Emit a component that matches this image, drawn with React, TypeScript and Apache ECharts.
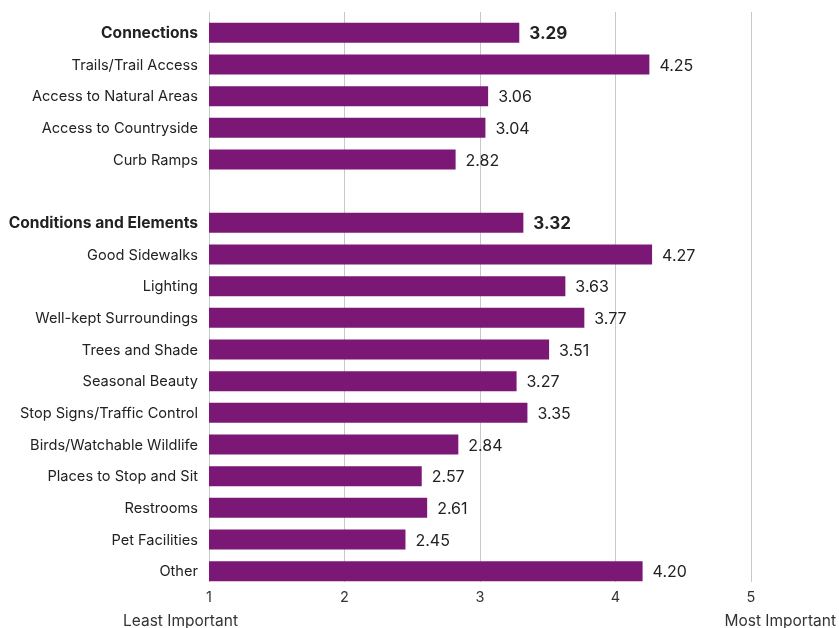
import React, { useEffect, useRef } from "react";
import * as echarts from "echarts";

const categories = [
  "Connections",
  "Trails/Trail Access",
  "Access to Natural Areas",
  "Access to Countryside",
  "Curb Ramps",
  "",
  "Conditions and Elements",
  "Good Sidewalks",
  "Lighting",
  "Well-kept Surroundings",
  "Trees and Shade",
  "Seasonal Beauty",
  "Stop Signs/Traffic Control",
  "Birds/Watchable Wildlife",
  "Places to Stop and Sit",
  "Restrooms",
  "Pet Facilities",
  "Other",
];
const values: (number | null)[] = [
  3.29, 4.25, 3.06, 3.04, 2.82, null,
  3.32, 4.27, 3.63, 3.77, 3.51, 3.27, 3.35, 2.84, 2.57, 2.61, 2.45, 4.2,
];
const headers = ["Connections", "Conditions and Elements"];
const tickLabels = ["1", "2", "3", "4", "5"];
const scaleEnds = ["Least Important", "Most Important"];

const FONT = "Inter, 'Open Sans', sans-serif";
const PURPLE = "#7b1875";

export default function App() {
  const ref = useRef<HTMLDivElement>(null);
  useEffect(() => {
    if (!ref.current) return;
    const chart = echarts.init(ref.current, null, { renderer: "svg" });
    const cats = [...categories].reverse();
    const vals = [...values].reverse();
    chart.setOption({
      animation: false,
      textStyle: { fontFamily: FONT },
      grid: [
        { left: 209, right: 88, top: 17, bottom: 41, containLabel: false },
        { left: 209, right: 88, top: 12, bottom: 46, containLabel: false },
      ],
      xAxis: [
        {
          type: "value",
          gridIndex: 0,
          min: 1,
          max: 5,
          interval: 1,
          axisLine: { show: false },
          axisTick: { show: false },
          splitLine: { show: false },
          axisLabel: { show: false },
        },
        {
          type: "value",
          gridIndex: 1,
          min: 1,
          max: 5,
          interval: 1,
          axisLine: { show: false },
          axisTick: { show: false },
          splitLine: { show: true, lineStyle: { color: "#c8c8c8", width: 1 } },
          axisLabel: {
            margin: 7,
            fontSize: 14.5,
            color: "#333",
            fontFamily: FONT,
            formatter: (v: number) => tickLabels[Math.round(v) - 1] ?? "",
          },
        },
      ],
      yAxis: [
        {
          type: "category",
          gridIndex: 0,
          data: cats,
          axisLine: { show: false },
          axisTick: { show: false },
          axisLabel: {
            margin: 11,
            fontSize: 14.6,
            color: "#222",
            fontFamily: FONT,
            formatter: (v: string) => (headers.includes(v) ? `{b|${v}}` : v),
            rich: {
              b: { fontSize: 15.6, fontWeight: "bold", color: "#222", fontFamily: FONT },
            },
          },
        },
        {
          type: "category",
          gridIndex: 1,
          data: cats,
          show: false,
        },
      ],
      series: [
        {
          type: "bar",
          xAxisIndex: 0,
          yAxisIndex: 0,
          z: 3,
          data: vals.map((v, i) => ({
            value: v,
            label: headers.includes(cats[i])
              ? { fontWeight: "bold", fontSize: 17 }
              : undefined,
          })),
          barWidth: 20,
          itemStyle: { color: PURPLE },
          label: {
            show: true,
            position: "right",
            distance: 10,
            fontSize: 16,
            color: "#222",
            fontFamily: FONT,
            formatter: (p: any) => (p.value == null ? "" : Number(p.value).toFixed(2)),
          },
        },
      ],
      graphic: [
        {
          type: "text",
          left: 123,
          top: 612,
          style: { text: scaleEnds[0], fontSize: 15.5, fill: "#333", fontFamily: FONT },
        },
        {
          type: "text",
          right: 3,
          top: 612,
          style: { text: scaleEnds[1], fontSize: 15.5, fill: "#333", fontFamily: FONT },
        },
      ],
    });
    return () => chart.dispose();
  }, []);
  return (
    <div
      ref={ref}
      style={{ width: 839, height: 628, position: "fixed", left: 0, top: 0 }}
    />
  );
}
